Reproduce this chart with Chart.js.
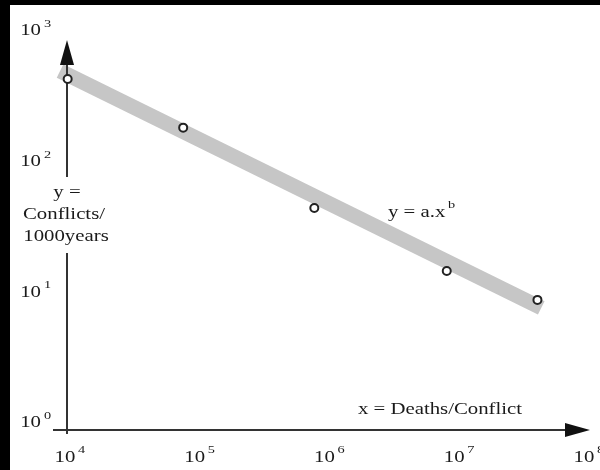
<!DOCTYPE html>
<html>
<head>
<meta charset="utf-8">
<script src="https://cdn.jsdelivr.net/npm/chart.js@4/dist/chart.umd.min.js"></script>
<style>
  html, body { margin: 0; padding: 0; background: #fff; }
  canvas { display: block; }
</style>
</head>
<body>
<canvas id="myChart" width="600" height="470"></canvas>
<script>
// data (log-log)
const deaths = [1.03e4, 8.0e4, 8.2e5, 8.6e6, 4.3e7];
const conflicts = [485, 206, 50, 16.5, 9.9];

// fitted band y = a.x^b, two end points
const fitX = [9000, 4.6e7];
const fitY = [560, 8.6];

// tick labels
const xTickValues = [1e4, 1e5, 1e6, 1e7, 1e8];
const xTickExps = ['4', '5', '6', '7', '8'];
const yTickValues = [1, 10, 100, 1000];
const yTickExps = ['0', '1', '2', '3'];

const FONT = '"Liberation Serif", "DejaVu Serif", serif';
const INK = '#1a1a1a';

// draw text a little stretched horizontally, like the scan
function drawText(ctx, str, x, y, align, size) {
  ctx.save();
  ctx.translate(x, y);
  ctx.scale(1.3, 1);
  ctx.font = size + 'px ' + FONT;
  ctx.fillStyle = INK;
  ctx.textAlign = align;
  ctx.textBaseline = 'middle';
  ctx.fillText(str, 0, 0);
  ctx.restore();
}

const framePlugin = {
  id: 'frame',
  beforeDraw(chart) {
    const ctx = chart.ctx;
    ctx.save();
    ctx.fillStyle = '#000';
    ctx.fillRect(0, 0, chart.width, chart.height);
    ctx.fillStyle = '#fff';
    ctx.fillRect(10, 5, chart.width - 10, chart.height - 5);
    ctx.restore();
  }
};

// axes with arrows, drawn right after the grey band
// the y axis is broken where its title sits
const axesPlugin = {
  id: 'axes',
  afterDatasetDraw(chart, args) {
    if (args.index !== 1) return;
    const ctx = chart.ctx;
    const a = chart.chartArea;
    const x0 = a.left + 1;
    const y0 = a.bottom;
    ctx.save();
    ctx.strokeStyle = '#333';
    ctx.fillStyle = '#111';
    ctx.lineWidth = 2;
    ctx.beginPath();
    ctx.moveTo(x0, a.top + 26);
    ctx.lineTo(x0, 177);
    ctx.moveTo(x0, 253);
    ctx.lineTo(x0, y0 + 4);
    ctx.moveTo(53, y0);
    ctx.lineTo(a.right - 20, y0);
    ctx.stroke();
    // y arrow
    ctx.beginPath();
    ctx.moveTo(x0, a.top + 2);
    ctx.lineTo(x0 - 7, a.top + 27);
    ctx.lineTo(x0 + 7, a.top + 27);
    ctx.closePath();
    ctx.fill();
    // x arrow
    ctx.beginPath();
    ctx.moveTo(a.right + 5, y0);
    ctx.lineTo(a.right - 20, y0 - 7);
    ctx.lineTo(a.right - 20, y0 + 7);
    ctx.closePath();
    ctx.fill();
    ctx.restore();
  }
};

const labelsPlugin = {
  id: 'labels',
  afterDraw(chart) {
    const ctx = chart.ctx;
    const xs = chart.scales.x;
    const ys = chart.scales.y;

    xTickValues.forEach((v, i) => {
      const px = xs.getPixelForValue(v);
      drawText(ctx, '10', px - 1, 458, 'center', 16);
      drawText(ctx, xTickExps[i], px + 12, 450, 'left', 11);
    });

    yTickValues.forEach((v, i) => {
      const py = ys.getPixelForValue(v);
      drawText(ctx, '10', 41, py - 7, 'right', 16);
      drawText(ctx, yTickExps[i], 44, py - 14, 'left', 11);
    });

    drawText(ctx, 'y =', 67, 193, 'center', 16);
    drawText(ctx, 'Conflicts/', 64, 215, 'center', 16);
    drawText(ctx, '1000years', 66, 237, 'center', 16);

    drawText(ctx, 'y = a.x', 388, 213, 'left', 16);
    drawText(ctx, 'b', 448, 205, 'left', 11);

    drawText(ctx, 'x = Deaths/Conflict', 440, 410, 'center', 16);
  }
};

const ctx = document.getElementById('myChart').getContext('2d');

new Chart(ctx, {
  type: 'scatter',
  data: {
    datasets: [
      {
        label: 'data',
        data: deaths.map((d, i) => ({ x: d, y: conflicts[i] })),
        pointRadius: 4,
        pointBackgroundColor: '#fff',
        pointBorderColor: '#222',
        pointBorderWidth: 2,
        clip: false,
        order: 0
      },
      {
        label: 'fit',
        data: fitX.map((d, i) => ({ x: d, y: fitY[i] })),
        showLine: true,
        borderColor: '#c6c6c6',
        borderWidth: 15,
        pointRadius: 0,
        clip: false,
        order: 1
      }
    ]
  },
  options: {
    responsive: false,
    animation: false,
    layout: {
      padding: { left: 66, right: 15, top: 38, bottom: 40 }
    },
    plugins: {
      legend: { display: false },
      tooltip: { enabled: false }
    },
    scales: {
      x: { type: 'logarithmic', min: 1e4, max: 1e8, display: false },
      y: { type: 'logarithmic', min: 1, max: 1000, display: false }
    }
  },
  plugins: [framePlugin, axesPlugin, labelsPlugin]
});
</script>
</body>
</html>
